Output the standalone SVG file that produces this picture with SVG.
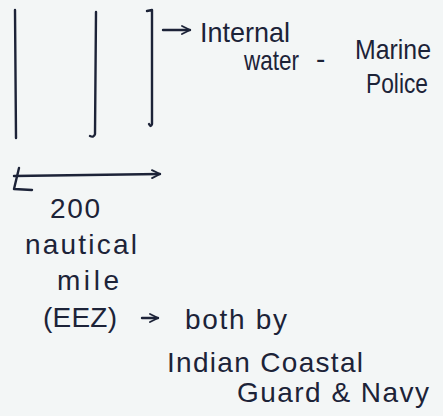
<svg xmlns="http://www.w3.org/2000/svg" width="443" height="416" viewBox="0 0 443 416">
<style>
.ink{fill:none;stroke:#1c2338;stroke-width:2.4;stroke-linecap:round;stroke-linejoin:round}
.t{font-family:"Liberation Sans",Arial,sans-serif;font-size:28px;fill:#1c2338}
</style>
<defs>
<marker id="ah" viewBox="0 0 10 10" refX="9" refY="5" markerWidth="10" markerHeight="10" orient="auto" markerUnits="userSpaceOnUse">
<path d="M1,1 L9,5 L1,9" fill="none" stroke="#1c2338" stroke-width="1.8" stroke-linecap="round"/>
</marker>
</defs>
<rect width="443" height="416" fill="#f3f6f6"/>
<g id="boundaries">
<path class="ink" d="M15,10 L16,138"/>
<path class="ink" d="M96,12 L95,134 Q94,138 90,136"/>
<path class="ink" d="M147,11 L152,10 L152,124 Q151,128 149,124"/>
</g>
<g id="connectors">
<path class="ink" d="M163,30 L190,30" marker-end="url(#ah)"/>
<path class="ink" d="M14,176 L160,174" marker-end="url(#ah)"/>
<path class="ink" d="M19,168 L14,189 L32,190"/>
<path class="ink" d="M142,318 L158,318" marker-end="url(#ah)"/>
</g>
<g id="internal-water">
<text class="t" x="200" y="42" textLength="90" lengthAdjust="spacingAndGlyphs">Internal</text>
<text class="t" x="244" y="70" textLength="55" lengthAdjust="spacingAndGlyphs">water</text>
<text class="t" x="316" y="68">-</text>
<text class="t" x="355" y="59" textLength="76" lengthAdjust="spacingAndGlyphs">Marine</text>
<text class="t" x="366" y="93" textLength="62" lengthAdjust="spacingAndGlyphs">Police</text>
</g>
<g id="eez">
<text class="t" x="50" y="218" textLength="50">200</text>
<text class="t" x="25" y="254" font-size="30" textLength="112">nautical</text>
<text class="t" x="57" y="290" textLength="62">mile</text>
<text class="t" x="43" y="327" textLength="74">(EEZ)</text>
<text class="t" x="185" y="329" textLength="102">both by</text>
</g>
<g id="agencies">
<text class="t" x="167" y="372" textLength="196">Indian Coastal</text>
<text class="t" x="237" y="402" textLength="192">Guard &amp; Navy</text>
</g>
</svg>
